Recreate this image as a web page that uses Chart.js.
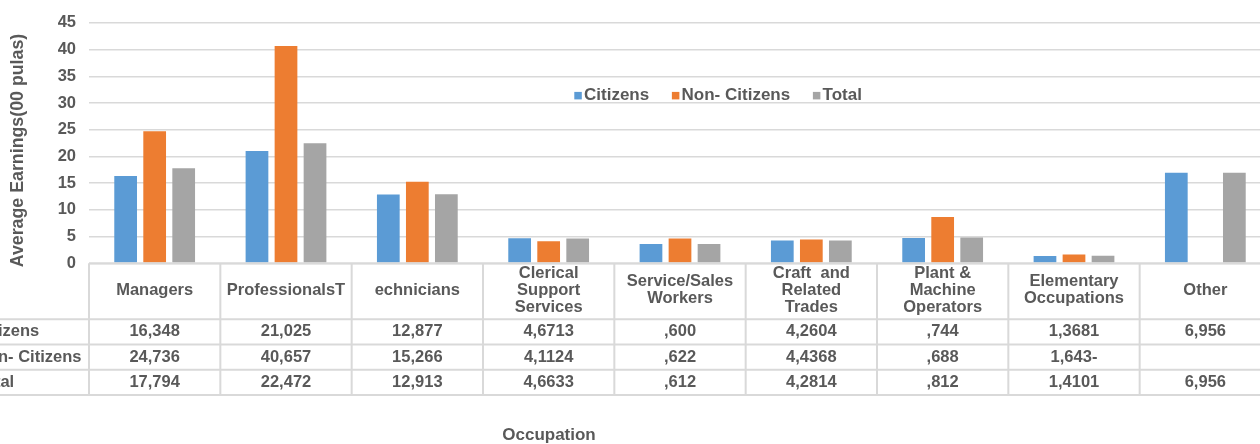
<!DOCTYPE html>
<html>
<head>
<meta charset="utf-8">
<script src="https://cdn.jsdelivr.net/npm/chart.js@4"></script>
<style>
  html, body { margin: 0; padding: 0; background: #fff; overflow: hidden; }
  #wrap { position: absolute; left: -30px; top: 0; width: 1310px; height: 444px; }
</style>
</head>
<body>
<div id="wrap"><canvas id="earningsChart"></canvas></div>
<script>
// categories as they appear in the table header (line-broken)
const occupations = [
    ["Managers"],
    ["ProfessionalsT"],
    ["echnicians"],
    ["Clerical", "Support", "Services"],
    ["Service/Sales", "Workers"],
    ["Craft  and", "Related", "Trades"],
    ["Plant &", "Machine", "Operators"],
    ["Elementary", "Occupations"],
    ["Other"]
];

// bar heights (00 pulas)
const citizens    = [16.348, 21.025, 12.877, 4.671, 3.600, 4.260, 4.744, 1.368, 16.956];
const nonCitizens = [24.736, 40.657, 15.266, 4.112, 4.622, 4.437, 8.688, 1.643, null];
const total       = [17.794, 22.472, 12.913, 4.663, 3.612, 4.281, 4.812, 1.410, 16.956];

// data table text, as printed
const seriesNames      = ["Citizens", "Non- Citizens", "Total"];
const citizensText     = ["16,348", "21,025", "12,877", "4,6713", ",600", "4,2604", ",744", "1,3681", "6,956"];
const nonCitizensText  = ["24,736", "40,657", "15,266", "4,1124", ",622", "4,4368", ",688", "1,643-", ""];
const totalText        = ["17,794", "22,472", "12,913", "4,6633", ",612", "4,2814", ",812", "1,4101", "6,956"];

const yTicks = { min: 0, max: 45, step: 5 };
const yTitle = "Average Earnings(00 pulas)";
const xTitle = "Occupation";

const TEXT = "#595959";
const LINE = "#d9d9d9";
const FONT = "'Liberation Sans', Arial, sans-serif";

Chart.defaults.font.family = FONT;
Chart.defaults.color = TEXT;

const tablePlugin = {
    id: "dataTable",
    afterDraw(chart) {
        const ctx = chart.ctx;
        const area = chart.chartArea;
        const x = chart.scales.x;
        const n = occupations.length;
        const colW = (x.right - x.left) / n;
        const top = area.bottom;
        const headBottom = top + 56;
        const rowH = 25.2;
        const rows = [citizensText, nonCitizensText, totalText];
        const bottom = headBottom + rowH * rows.length;

        ctx.save();
        ctx.strokeStyle = LINE;
        ctx.lineWidth = 2;

        // horizontal lines
        ctx.beginPath();
        ctx.moveTo(x.left, top);
        ctx.lineTo(x.right, top);
        for (let r = 0; r <= rows.length; r++) {
            const yy = headBottom + r * rowH;
            ctx.moveTo(0, yy);
            ctx.lineTo(x.right, yy);
        }
        // vertical lines
        for (let i = 0; i <= n; i++) {
            const xx = x.left + i * colW;
            ctx.moveTo(xx, top);
            ctx.lineTo(xx, bottom);
        }
        ctx.stroke();

        ctx.fillStyle = TEXT;
        ctx.font = "bold 16.5px " + FONT;
        ctx.textAlign = "center";
        ctx.textBaseline = "middle";

        // header
        const headMid = (top + headBottom) / 2 - 1;
        occupations.forEach((lines, i) => {
            const cx = x.getPixelForValue(i);
            lines.forEach((ln, k) => {
                ctx.fillText(ln, cx, headMid + (k - (lines.length - 1) / 2) * 17);
            });
        });

        // rows
        rows.forEach((vals, r) => {
            const cy = headBottom + r * rowH + rowH / 2;
            vals.forEach((v, i) => ctx.fillText(v, x.getPixelForValue(i), cy));
            ctx.textAlign = "left";
            ctx.fillText(seriesNames[r], 6, cy);
            ctx.textAlign = "center";
        });

        // x axis title
        ctx.font = "bold 17px " + FONT;
        ctx.fillText(xTitle, area.left + 460, 435);

        // y axis title
        ctx.save();
        ctx.translate(48.5, area.bottom + 4);
        ctx.rotate(-Math.PI / 2);
        ctx.font = "bold 17.8px " + FONT;
        ctx.textAlign = "left";
        ctx.fillText(yTitle, 0, 0);
        ctx.restore();

        // legend
        ctx.font = "bold 17px " + FONT;
        ctx.textAlign = "left";
        ctx.textBaseline = "alphabetic";
        let lx = area.left + 485.3;
        const ly = area.top + 77;
        chart.data.datasets.forEach(ds => {
            ctx.fillStyle = ds.backgroundColor;
            ctx.fillRect(lx, ly - 8, 7.5, 7.5);
            ctx.fillStyle = TEXT;
            ctx.fillText(ds.label, lx + 9.7, ly);
            lx += 9.7 + ctx.measureText(ds.label).width + 22.7;
        });
        ctx.restore();
    }
};

new Chart(document.getElementById("earningsChart"), {
    type: "bar",
    data: {
        labels: occupations.map(l => l.join(" ")),
        datasets: [
            { label: seriesNames[0], data: citizens, backgroundColor: "#5B9BD5" },
            { label: seriesNames[1], data: nonCitizens, backgroundColor: "#ED7D31" },
            { label: seriesNames[2], data: total, backgroundColor: "#A5A5A5" }
        ]
    },
    options: {
        responsive: true,
        maintainAspectRatio: false,
        animation: false,
        categoryPercentage: 0.663,
        barPercentage: 0.783,
        layout: { padding: { left: 0, right: 9, top: 22, bottom: 180.7 } },
        scales: {
            x: { display: false },
            y: {
                min: yTicks.min,
                max: yTicks.max,
                ticks: { stepSize: yTicks.step, padding: 13, color: TEXT, font: { size: 16.5, weight: "bold" } },
                grid: { color: LINE, lineWidth: 1.5, drawTicks: false },
                border: { display: false },
                afterFit: (axis) => { axis.width = 119; }
            }
        },
        plugins: {
            legend: { display: false },
            tooltip: { enabled: false }
        }
    },
    plugins: [tablePlugin]
});
</script>
</body>
</html>
